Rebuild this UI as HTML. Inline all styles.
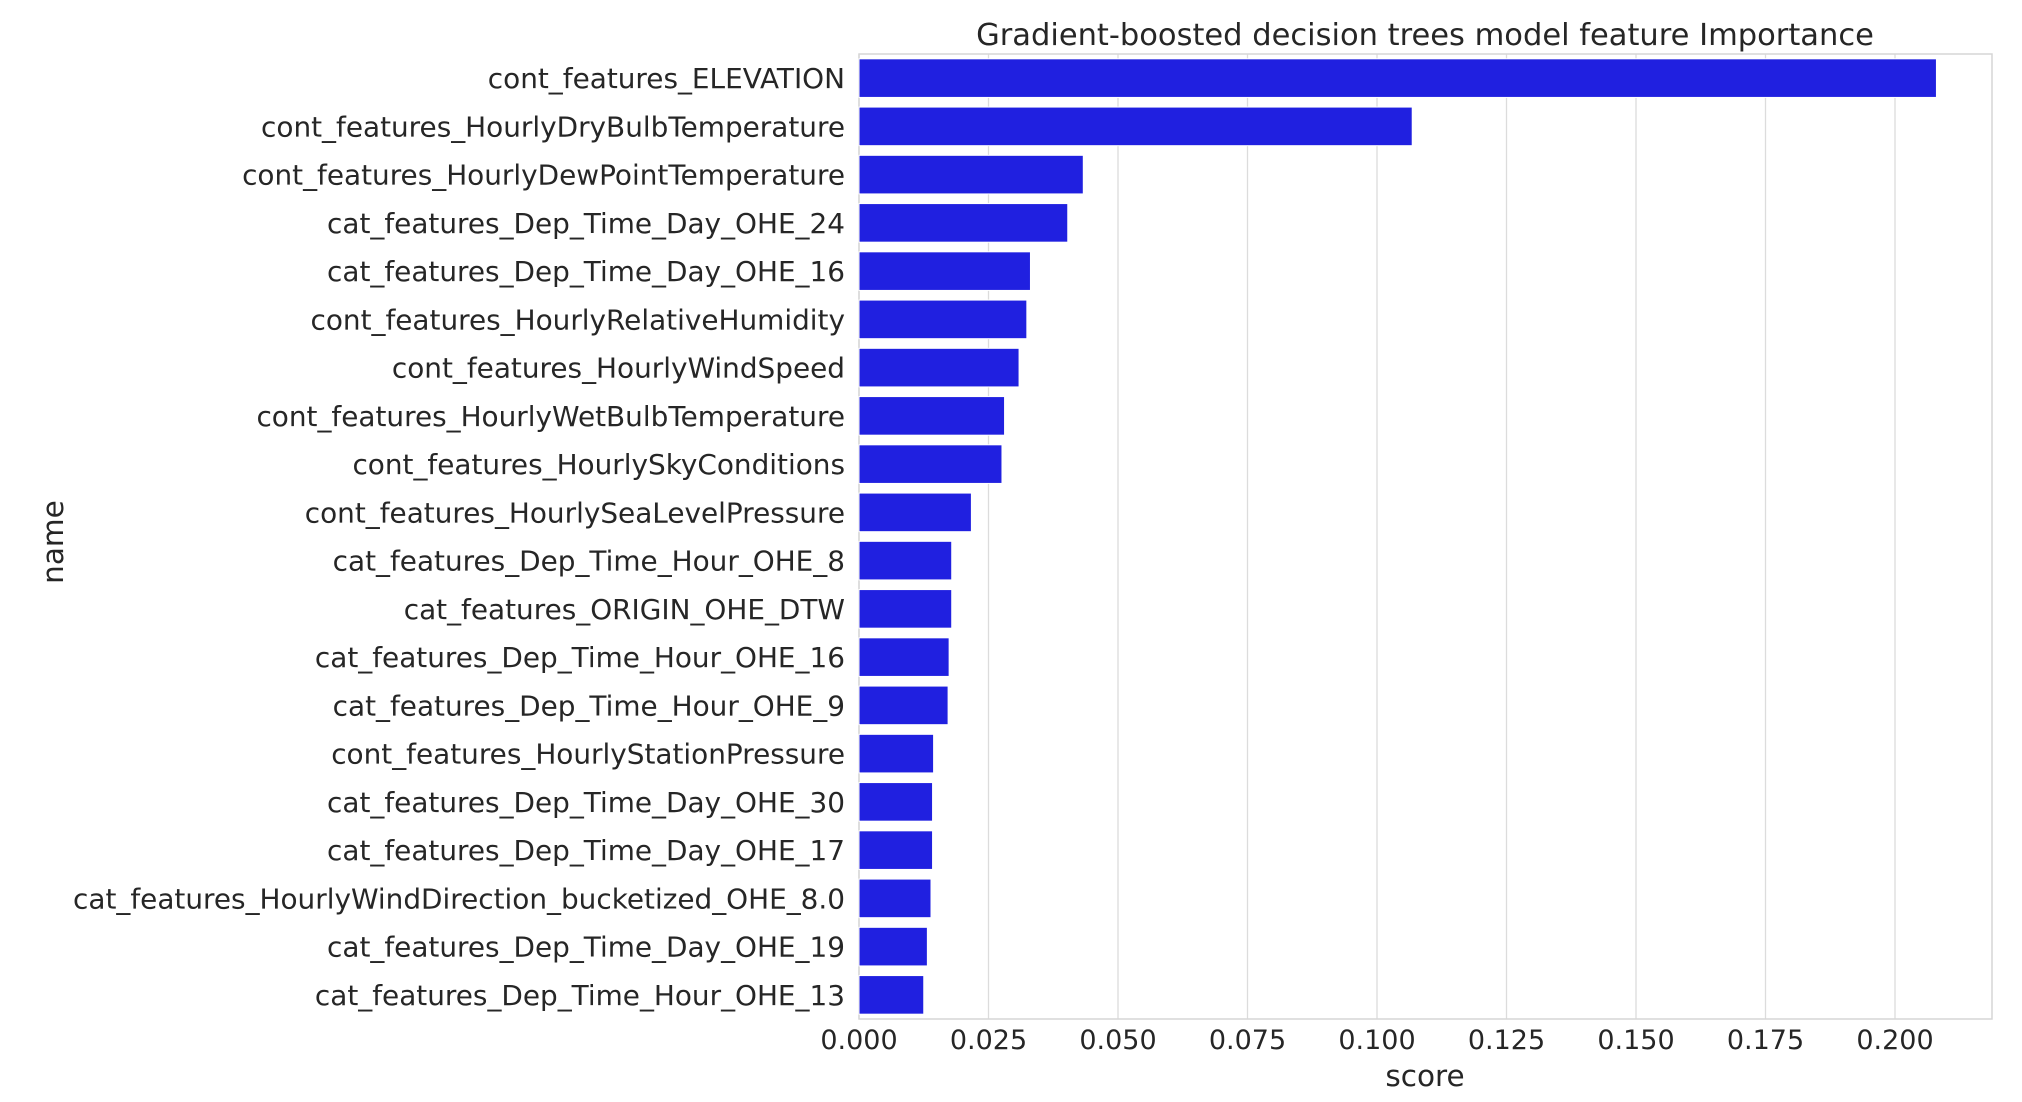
<!DOCTYPE html>
<html><head><meta charset="utf-8"><style>
body{margin:0;background:#fff}
svg{display:block;font-family:"DejaVu Sans","Liberation Sans",sans-serif}
</style></head><body>
<svg id="chart" width="2022" height="1102"></svg>
<script>
const categories=["cont_features_ELEVATION","cont_features_HourlyDryBulbTemperature","cont_features_HourlyDewPointTemperature","cat_features_Dep_Time_Day_OHE_24","cat_features_Dep_Time_Day_OHE_16","cont_features_HourlyRelativeHumidity","cont_features_HourlyWindSpeed","cont_features_HourlyWetBulbTemperature","cont_features_HourlySkyConditions","cont_features_HourlySeaLevelPressure","cat_features_Dep_Time_Hour_OHE_8","cat_features_ORIGIN_OHE_DTW","cat_features_Dep_Time_Hour_OHE_16","cat_features_Dep_Time_Hour_OHE_9","cont_features_HourlyStationPressure","cat_features_Dep_Time_Day_OHE_30","cat_features_Dep_Time_Day_OHE_17","cat_features_HourlyWindDirection_bucketized_OHE_8.0","cat_features_Dep_Time_Day_OHE_19","cat_features_Dep_Time_Hour_OHE_13"];
const scores=[0.208,0.1068,0.0433,0.0403,0.0331,0.0324,0.0309,0.0281,0.0276,0.0217,0.0179,0.0179,0.0174,0.0172,0.0144,0.0142,0.0142,0.0139,0.0132,0.0125];
const ticks=[0,0.025,0.05,0.075,0.1,0.125,0.15,0.175,0.2];
const tickLabels=["0.000","0.025","0.050","0.075","0.100","0.125","0.150","0.175","0.200"];

const L=859,R=1992,T=54,B=1019;
const xs=v=>L+v*(1895-859)/0.2;
const band=(B-T)/categories.length;
const yc=i=>T+band*(i+0.5);
const svg=document.getElementById('chart');
const NS='http://www.w3.org/2000/svg';
function mk(tag,attrs,text){const e=document.createElementNS(NS,tag);for(const k in attrs)e.setAttribute(k,attrs[k]);if(text!==undefined)e.textContent=text;svg.appendChild(e);return e;}

ticks.forEach((t,i)=>{
 const g=mk('line',{x1:xs(t),x2:xs(t),y1:T,y2:B,stroke:'#dcdcdc','stroke-width':1.3});
 
 
 const lb=mk('text',{x:xs(t),y:1049,'text-anchor':'middle','font-size':27,fill:'#262626'},tickLabels[i]);
 
 
});
const fr=mk('rect',{x:L,y:T,width:R-L,height:B-T,fill:'none',stroke:'#d6d6d6','stroke-width':1.5});



categories.forEach((c,i)=>{
 const h=band*0.8;
 const b=mk('rect',{x:L,y:yc(i)-h/2,width:xs(scores[i])-L,height:h,fill:'#2020e0',stroke:'#fff','stroke-width':1});
 
 
 const t=mk('text',{x:845,y:yc(i)+10,'text-anchor':'end','font-size':27.9,fill:'#262626'},c);
 
 
});

const ti=mk('text',{x:1425,y:45,'text-anchor':'middle','font-size':30.5,fill:'#262626'},'Gradient-boosted decision trees model feature Importance');


const xl=mk('text',{x:1425,y:1086,'text-anchor':'middle','font-size':29.5,fill:'#262626'},'score');


const yl=mk('text',{x:63,y:542,'text-anchor':'middle','font-size':29.5,fill:'#262626',transform:'rotate(-90 63 542)'},'name');


</script>
</body></html>
